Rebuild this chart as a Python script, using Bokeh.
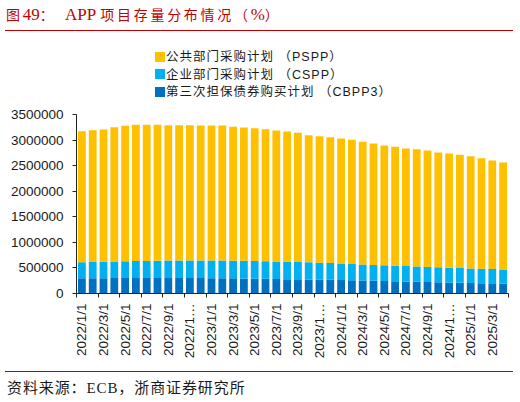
import math
from bokeh.plotting import figure
from bokeh.layouts import column
from bokeh.models import (ColumnDataSource, Range1d, FixedTicker, NumeralTickFormatter, Div)
from bokeh.embed import file_html
from bokeh.resources import INLINE

# ---------------- data ----------------
dates = [
    "2022/1/1", "2022/2/1", "2022/3/1", "2022/4/1", "2022/5/1", "2022/6/1",
    "2022/7/1", "2022/8/1", "2022/9/1", "2022/10/1", "2022/11/1", "2022/12/1",
    "2023/1/1", "2023/2/1", "2023/3/1", "2023/4/1", "2023/5/1", "2023/6/1",
    "2023/7/1", "2023/8/1", "2023/9/1", "2023/10/1", "2023/11/1", "2023/12/1",
    "2024/1/1", "2024/2/1", "2024/3/1", "2024/4/1", "2024/5/1", "2024/6/1",
    "2024/7/1", "2024/8/1", "2024/9/1", "2024/10/1", "2024/11/1", "2024/12/1",
    "2025/1/1", "2025/2/1", "2025/3/1", "2025/4/1",
]

tick_labels = [
    "2022/1/1", "2022/3/1", "2022/5/1", "2022/7/1", "2022/9/1", "2022/1…",
    "2023/1/1", "2023/3/1", "2023/5/1", "2023/7/1", "2023/9/1", "2023/1…",
    "2024/1/1", "2024/3/1", "2024/5/1", "2024/7/1", "2024/9/1", "2024/1…",
    "2025/1/1", "2025/3/1",
]

pspp = [
    2563000, 2578000, 2587000, 2627000, 2649000, 2664000, 2661000, 2658000,
    2648000, 2646000, 2646000, 2639000, 2640000, 2641000, 2618000, 2608000,
    2598000, 2582000, 2560000, 2545000, 2525000, 2486000, 2473000, 2461000,
    2445000, 2428000, 2398000, 2374000, 2343000, 2324000, 2299000, 2294000,
    2276000, 2244000, 2232000, 2214000, 2194000, 2162000, 2124000, 2090000,
]
cspp = [
    312000, 316000, 320000, 324000, 328000, 332000, 335000, 338000,
    341000, 343000, 344000, 345000, 345000, 345000, 345000, 345000,
    345000, 344000, 343000, 342000, 339000, 335000, 332000, 328000,
    324000, 320000, 316000, 312000, 309000, 306000, 303000, 300000,
    297000, 294000, 291000, 288000, 285000, 282000, 279000, 276000,
]
cbpp3 = [
    298000, 299000, 300000, 301000, 302000, 302000, 302000, 302000,
    302000, 302000, 301000, 301000, 300000, 299000, 296000, 293000,
    290000, 287000, 284000, 281000, 278000, 275000, 271000, 267000,
    262000, 257000, 252000, 247000, 242000, 238000, 233000, 228000,
    223000, 219000, 214000, 210000, 206000, 202000, 198000, 195000,
]

series_names = ["公共部门采购计划 （PSPP）", "企业部门采购计划 （CSPP）", "第三次担保债券购买计划 （CBPP3）"]
y_ticks = [0, 500000, 1000000, 1500000, 2000000, 2500000, 3000000, 3500000]
# title pieces: (text, is_latin)
title_parts = [("图", False), ("49", True), ("：", False), ("&nbsp;&nbsp;APP&nbsp;", True),
               ("项目存量分布情况（", False), ("%", True), ("）", False)]
source_text = "资料来源：ECB，浙商证券研究所"

# ---------------- styles ----------------
C_PSPP = "#FFC000"
C_CSPP = "#00B0F0"
C_CBPP = "#0070C0"
RED = "#C00000"
SANS = "Liberation Sans, Noto Sans CJK SC"
CSS_SANS = "'Liberation Sans','Noto Sans CJK SC',sans-serif"
CSS_SERIF = "'Liberation Serif','Noto Sans CJK SC',serif"
W = 520

n = len(dates)
source = ColumnDataSource(dict(x=list(range(n)), date=dates, pspp=pspp, cspp=cspp, cbpp3=cbpp3))

p = figure(width=W, height=265, output_backend="svg", toolbar_location=None,
           x_range=Range1d(-0.5, n - 0.5), y_range=Range1d(0, 3500000),
           min_border_left=76, min_border_right=12, min_border_top=8, min_border_bottom=78)
p.outline_line_color = None
p.xgrid.visible = False
p.ygrid.visible = False

rs = p.vbar_stack(["cbpp3", "cspp", "pspp"], x="x", width=0.72,
                  color=[C_CBPP, C_CSPP, C_PSPP], line_color=None, source=source)

# y axis
ya = p.yaxis[0]
ya.ticker = FixedTicker(ticks=y_ticks, minor_ticks=[])
ya.formatter = NumeralTickFormatter(format="0")
ya.major_label_text_font = SANS
ya.major_label_text_font_size = "13.5px"
ya.major_label_text_color = "#1a1a1a"
ya.axis_line_color = "#222222"
ya.major_tick_line_color = "#222222"
ya.major_tick_out = 4
ya.major_tick_in = 0
ya.major_label_standoff = 9

# x axis: labels at odd months, tick marks at boundaries every two bars
xa = p.xaxis[0]
label_pos = list(range(0, n, 2))
xa.ticker = FixedTicker(ticks=label_pos, minor_ticks=[i - 0.5 for i in range(0, n + 1, 2)])
xa.major_label_overrides = {pos: lab for pos, lab in zip(label_pos, tick_labels)}
xa.major_label_orientation = math.pi / 2
xa.major_label_text_font = SANS
xa.major_label_text_font_size = "13.5px"
xa.major_label_text_color = "#1a1a1a"
xa.axis_line_color = "#222222"
xa.major_tick_out = 0
xa.major_tick_in = 0
xa.minor_tick_line_color = "#222222"
xa.minor_tick_out = 4
xa.minor_tick_in = 0
xa.major_label_standoff = 6

# ---------------- header: title, rule, legend ----------------
legend_colors = [C_PSPP, C_CSPP, C_CBPP]
legend_centers = [57, 74.5, 92]
rows = ""
for name, col, cy in zip(series_names, legend_colors, legend_centers):
    rows += (f'<div style="position:absolute;left:155px;top:{cy - 9}px;height:18px;'
             f'line-height:18px;white-space:nowrap;font-family:{CSS_SANS};font-size:12.5px;'
             f'letter-spacing:1px;color:#1a1a1a;">'
             f'<span style="display:inline-block;width:10px;height:10px;background:{col};'
             f'vertical-align:middle;margin-right:1px;position:relative;top:-1px;"></span>{name}</div>')

title_html = ""
for txt, latin in title_parts:
    if latin:
        title_html += f'<span style="font-size:17px;letter-spacing:0px;">{txt}</span>'
    else:
        title_html += f'<span style="font-size:14px;letter-spacing:2.7px;">{txt}</span>'

header_html = (
    f'<div style="position:relative;width:{W}px;height:106px;">'
    f'<div style="position:absolute;left:6px;top:0px;height:29px;line-height:29px;white-space:nowrap;'
    f'font-family:{CSS_SERIF};color:{RED};">{title_html}</div>'
    f'<div style="position:absolute;left:5px;top:30px;width:508px;height:1px;background:{RED};"></div>'
    f'{rows}</div>'
)
header_div = Div(text=header_html, width=W, height=106, margin=0)

source_div = Div(
    text=(f'<div style="width:508px;height:30px;margin-left:5px;padding-left:2px;box-sizing:border-box;'
          f'border-top:1px solid {RED};font-family:{CSS_SERIF};font-size:15px;letter-spacing:0.9px;'
          f'color:#1a1a1a;line-height:32px;white-space:nowrap;">{source_text}</div>'),
    width=W, height=31, margin=0)

layout = column(header_div, p, source_div, spacing=0)

open("out.html", "w").write(file_html(layout, INLINE))
